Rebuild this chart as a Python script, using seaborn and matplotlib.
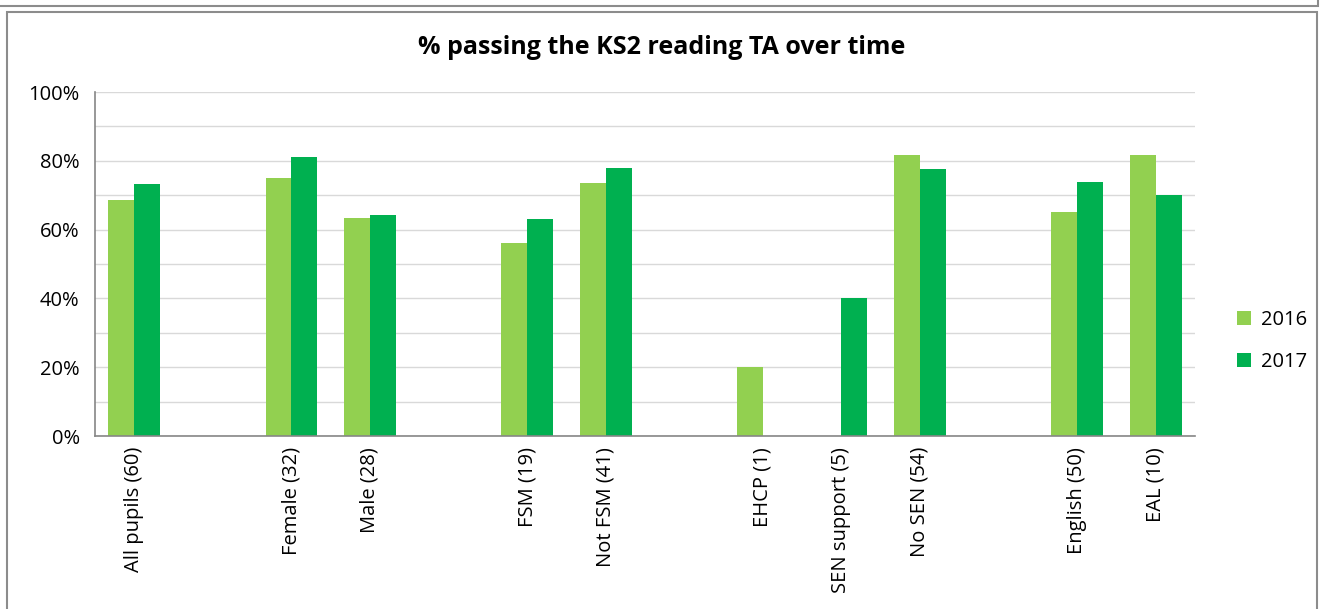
import numpy as np
import pandas as pd
import matplotlib
matplotlib.use("Agg")
import matplotlib.pyplot as plt
import seaborn as sns
from matplotlib.ticker import MultipleLocator, FixedLocator, PercentFormatter
from matplotlib.patches import Rectangle

# categories (blank slots are the gaps between groups)
categories = ["All pupils (60)", "", "Female (32)", "Male (28)", " ",
              "FSM (19)", "Not FSM (41)", "  ", "EHCP (1)", "SEN support (5)",
              "No SEN (54)", "   ", "English (50)", "EAL (10)"]
pct_2016 = [68.6, np.nan, 75.0, 63.4, np.nan, 56.1, 73.5, np.nan, 20.0, np.nan,
            81.7, np.nan, 65.1, 81.7]
pct_2017 = [73.3, np.nan, 81.1, 64.2, np.nan, 63.1, 77.9, np.nan, np.nan, 40.0,
            77.6, np.nan, 73.8, 70.0]
years = ["2016", "2017"]
colors = ["#92D050", "#00B050"]

df = pd.DataFrame({
    "group": categories * 2,
    "year": [years[0]] * len(categories) + [years[1]] * len(categories),
    "pct": pct_2016 + pct_2017,
})

sns.set_style("white")
plt.rcParams["font.family"] = ["Open Sans", "DejaVu Sans"]
plt.rcParams["text.color"] = "black"
plt.rcParams["xtick.labelcolor"] = "black"
plt.rcParams["ytick.labelcolor"] = "black"

fig = plt.figure(figsize=(13.24, 6.09), dpi=100)
ax = fig.add_axes([95 / 1324, 1 - 436 / 609, 1100 / 1324, 344 / 609])

sns.barplot(data=df, x="group", y="pct", hue="year", order=categories,
            palette=colors, width=0.66, saturation=1, linewidth=0, ax=ax, legend=True)

ax.set_xlim(-0.5, len(categories) - 0.5)
ax.set_ylim(0, 100)
ax.yaxis.set_major_locator(MultipleLocator(20))
ax.yaxis.set_minor_locator(MultipleLocator(10))
ax.yaxis.set_major_formatter(PercentFormatter(decimals=0))
ax.grid(True, axis="y", which="both", color="#d9d9d9", linewidth=1)
ax.set_axisbelow(True)

ax.set_xticks(range(len(categories)))
ax.set_xticklabels(categories, rotation=90, fontsize=14.5)
ax.tick_params(axis="x", which="major", length=0, pad=8)
ax.xaxis.set_minor_locator(FixedLocator(np.arange(-0.5, len(categories), 1)))
ax.tick_params(axis="x", which="minor", length=6, color="#868686", width=1, direction="out")
ax.tick_params(axis="y", which="both", length=5, color="#868686", width=1, direction="out",
               labelsize=14.5)
ax.tick_params(axis="y", which="major", pad=6)

for s in ["top", "right"]:
    ax.spines[s].set_visible(False)
for s in ["left", "bottom"]:
    ax.spines[s].set_color("#868686")
    ax.spines[s].set_linewidth(1.2)
ax.set_xlabel("")
ax.set_ylabel("")

handles, labels = ax.get_legend_handles_labels()
ax.legend(handles, labels, loc="center left", bbox_to_anchor=(1.022, 0.276),
          frameon=False, fontsize=14.5, handlelength=0.7, handleheight=0.7,
          handletextpad=0.5, labelspacing=1.1)

fig.text(0.5, 1 - 48 / 609, "% passing the KS2 reading TA over time",
         ha="center", va="center", fontsize=18, fontweight="bold", color="black")

# chart borders
fig.patches.append(Rectangle((7 / 1324, -0.01), 1310 / 1324, 1 - 12 / 609 + 0.01,
                             transform=fig.transFigure, fill=False,
                             edgecolor="#8c8c8c", linewidth=1.5))
fig.patches.append(Rectangle((-0.01, 1 - 6 / 609), 1 - 6 / 1324 + 0.01, 0.02,
                             transform=fig.transFigure, fill=False,
                             edgecolor="#8c8c8c", linewidth=1.5))

fig.savefig("out.png", dpi=100)
